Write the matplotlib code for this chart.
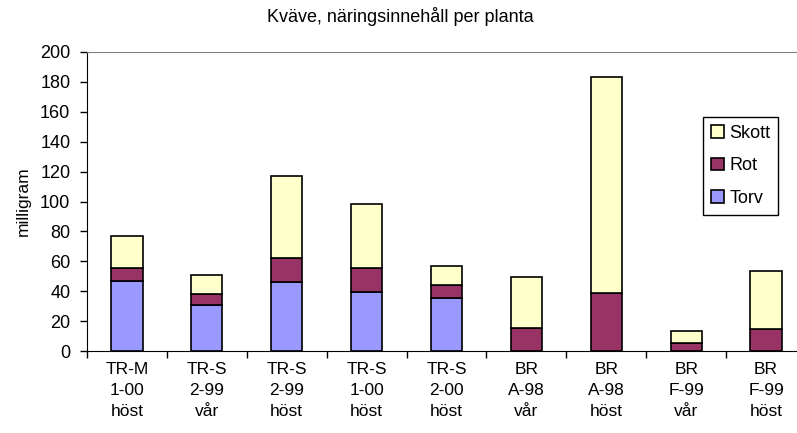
import numpy as np
import matplotlib
matplotlib.use('Agg')
from matplotlib import pyplot as plt

plt.rcParams['font.family'] = ['Liberation Sans', 'DejaVu Sans']

# kategorier (tre rader per etikett)
categories = ['TR-M\n1-00\nhöst', 'TR-S\n2-99\nvår', 'TR-S\n2-99\nhöst',
              'TR-S\n1-00\nhöst', 'TR-S\n2-00\nhöst', 'BR\nA-98\nvår',
              'BR\nA-98\nhöst', 'BR\nF-99\nvår', 'BR\nF-99\nhöst']

# mg per planta
torv = [47, 30.5, 46, 39.5, 35.5, 0, 0, 0, 0]
rot = [8.5, 7.5, 16, 16, 8.5, 15.5, 39, 5.5, 14.7]
skott = [21.5, 12.7, 55, 42.8, 13, 34, 144, 8, 39]

c_torv = '#9999FF'
c_rot = '#993366'
c_skott = '#FFFFCC'

fig = plt.figure(figsize=(7.97, 4.33), dpi=100)
ax = fig.add_axes([87/797, 82/433, 719/797, 299/433])

x = np.arange(len(categories))
w = 0.39
torv = np.array(torv)
rot = np.array(rot)
skott = np.array(skott)

b1 = ax.bar(x, torv, w, color=c_torv, edgecolor='black', linewidth=1.2, label='Torv')
b2 = ax.bar(x, rot, w, bottom=torv, color=c_rot, edgecolor='black', linewidth=1.2, label='Rot')
b3 = ax.bar(x, skott, w, bottom=torv+rot, color=c_skott, edgecolor='black', linewidth=1.2, label='Skott')
# dölj kanter på tomma segment
for r, v in zip(b1, torv):
    if v == 0:
        r.set_visible(False)

ax.set_xlim(-0.5, len(categories)-0.5)
ax.set_ylim(0, 200)
ax.set_yticks(np.arange(0, 201, 20))
ax.tick_params(axis='y', labelsize=13, length=5, width=1, direction='out', pad=7)

ax.set_xticks(x)
ax.set_xticklabels(categories, fontsize=12.5, linespacing=1.5)
ax.set_xticks(np.arange(-0.5, len(categories), 1), minor=True)
ax.tick_params(axis='x', which='major', length=0, pad=8)
ax.tick_params(axis='x', which='minor', length=5, width=1, direction='out')

ax.spines['right'].set_visible(False)
ax.spines['top'].set_color('#808080')
ax.spines['left'].set_color('black')
ax.spines['bottom'].set_color('black')

ax.set_ylabel('milligram', fontsize=12.5, labelpad=7)
fig.text(0.502, 0.963, 'Kväve, näringsinnehåll per planta', ha='center', va='center', fontsize=13)

h = [b3, b2, b1]
leg = ax.legend(h, ['Skott', 'Rot', 'Torv'], loc='upper left',
                bbox_to_anchor=((703-87)/719, (351-117)/299), fontsize=13,
                frameon=True, fancybox=False, edgecolor='black', framealpha=1,
                handlelength=0.7, handleheight=0.7, handletextpad=0.3,
                labelspacing=0.85, borderpad=0.45, borderaxespad=0)
leg.get_frame().set_linewidth(1)

fig.savefig('out.png', dpi=100)
